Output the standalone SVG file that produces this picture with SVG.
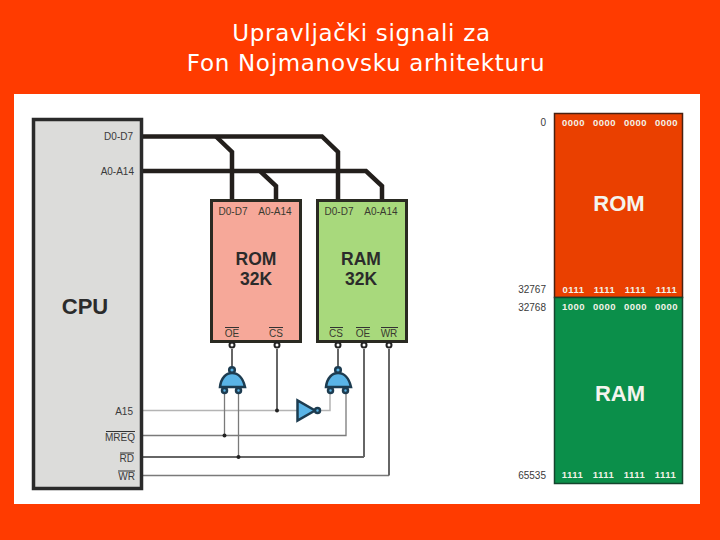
<svg xmlns="http://www.w3.org/2000/svg" width="720" height="540" viewBox="0 0 720 540">
<style>
text{font-family:"Liberation Sans",Arial,sans-serif;fill:#2b2b2b}
text.title{font-family:"DejaVu Sans",sans-serif;font-size:23px;fill:#fff;text-anchor:middle;letter-spacing:.7px}
.pin{font-size:10px;text-anchor:middle}
text.pin{fill:#3a3a30}
.end{font-size:10px;text-anchor:end}
text.end{fill:#3a3a3a}
.big{font-size:22px;font-weight:bold;text-anchor:middle}
.chip{font-size:17.500px;font-weight:bold;text-anchor:middle}
text.mem{font-size:22px;font-weight:bold;text-anchor:middle;fill:#f4f4ee}
.bits text{font-size:9.500px;font-weight:bold;fill:#f2f2e8;text-anchor:middle;letter-spacing:.45px}
.bus{fill:none;stroke:#231f1c;stroke-width:4.500;stroke-linejoin:miter}
.w{fill:none}
.light{stroke:#b4b4b4;stroke-width:1.500}
.mid{stroke:#7a7a7a;stroke-width:1.300}
.heavy{stroke:#666;stroke-width:2}
.dark{stroke:#333;stroke-width:1.500}
.gate{fill:#5ab4e6;stroke:#1d3c50;stroke-width:2.500;stroke-linejoin:miter}
.pinb{fill:#fff;stroke:#222;stroke-width:2}
.ov{stroke:#333;stroke-width:1;fill:none}
</style>
<rect width="720" height="540" fill="#ff3b00"/>
<text class="title" x="361.500" y="41">Upravljački signali za</text>
<text class="title" x="366" y="71">Fon Nojmanovsku arhitekturu</text>
<rect x="14" y="94" width="686" height="410" fill="#fff"/>

<g id="connectors">
<path class="bus" d="M141 136.500H322L338 152V200"/>
<path class="bus" d="M216 136.500L232 152V200"/>
<path class="bus" d="M141 171H366L382 186V200"/>
<path class="bus" d="M260 171L276 186V200"/>
<path class="w light" d="M141 410.500H297"/>
<path class="w light" d="M320 410.500H330V393"/>
<path class="w mid" d="M141 435.500H346V393"/>
<path class="w dark" d="M141 457H364"/>
<path class="w heavy" d="M364 457V349"/>
<path class="w mid" d="M141 475.500H389"/>
<path class="w heavy" d="M389 475.500V349"/>
<path class="w mid" d="M224.500 435.500V393"/>
<path class="w mid" d="M238.500 457V393"/>
<path class="w dark" d="M277 349V410.500"/>
<path class="w dark" d="M232 349V368"/>
<path class="w dark" d="M338 349V368"/>
<circle cx="277" cy="410.500" r="2" fill="#222"/>
<circle cx="224.500" cy="435.500" r="2" fill="#222"/>
<circle cx="238.500" cy="457" r="2" fill="#222"/>
</g>

<g id="cpu">
<rect x="33.500" y="119.500" width="108" height="369" fill="#dcdcda" stroke="#2a2a2a" stroke-width="3.500"/>
<text class="big" x="85" y="314">CPU</text>
<text class="end" x="133" y="140">D0-D7</text>
<text class="end" x="134" y="175">A0-A14</text>
<text class="end" x="133" y="415">A15</text>
<text class="end" x="135" y="441">MREQ</text><path class="ov" d="M106 431.500H135"/>
<text class="end" x="134" y="462">RD</text><path class="ov" d="M120 453H134"/>
<text class="end" x="135" y="480">WR</text><path class="ov" d="M118 471H135"/>
</g>

<g id="rom">
<rect x="211.500" y="200.500" width="89" height="141" fill="#f6a899" stroke="#2a2a22" stroke-width="3"/>
<text class="pin" x="233" y="215">D0-D7</text>
<text class="pin" x="275" y="215">A0-A14</text>
<text class="chip" x="256" y="265">ROM</text>
<text class="chip" x="256" y="285">32K</text>
<text class="pin" x="232" y="337">OE</text><path class="ov" d="M225 327.500H239"/>
<text class="pin" x="276" y="337">CS</text><path class="ov" d="M269 327.500H283"/>
<circle class="pinb" cx="232" cy="345" r="2.500"/>
<circle class="pinb" cx="277" cy="345" r="2.500"/>
</g>

<g id="ram">
<rect x="317.500" y="200.500" width="89" height="141" fill="#a8d97c" stroke="#2a2a22" stroke-width="3"/>
<text class="pin" x="339" y="215">D0-D7</text>
<text class="pin" x="381" y="215">A0-A14</text>
<text class="chip" x="361" y="265">RAM</text>
<text class="chip" x="361" y="285">32K</text>
<text class="pin" x="336" y="337">CS</text><path class="ov" d="M330 327.500H343"/>
<text class="pin" x="363" y="337">OE</text><path class="ov" d="M356 327.500H370"/>
<text class="pin" x="389" y="337">WR</text><path class="ov" d="M381 327.500H398"/>
<circle class="pinb" cx="338" cy="345" r="2.500"/>
<circle class="pinb" cx="364" cy="345" r="2.500"/>
<circle class="pinb" cx="389" cy="345" r="2.500"/>
</g>

<g id="nand-rom">
<circle class="gate" cx="232" cy="370" r="2.800"/>
<path class="gate" d="M220 387C221 378 226 373 232 373C238 373 243 378 245 387Z"/>
<circle class="gate" cx="224.500" cy="390.500" r="2.500"/>
<circle class="gate" cx="238.500" cy="390.500" r="2.500"/>
</g>
<g id="nand-ram">
<circle class="gate" cx="338" cy="370" r="2.800"/>
<path class="gate" d="M326 387C327 378 332 373 338 373C344 373 349 378 351 387Z"/>
<circle class="gate" cx="330.500" cy="390.500" r="2.500"/>
<circle class="gate" cx="345.500" cy="390.500" r="2.500"/>
</g>
<g id="inverter">
<path class="gate" d="M297.500 400.500V420.500L315 410.500Z"/>
<circle class="gate" cx="317.500" cy="410.500" r="2.500"/>
</g>

<g id="memory-map">
<rect x="554.500" y="113.500" width="128" height="184" fill="#ea4000" stroke="#4a2010" stroke-width="1.500"/>
<rect x="554.500" y="297.500" width="128" height="186" fill="#0b8f4a" stroke="#14452e" stroke-width="1.500"/>
<text class="mem" x="619" y="211">ROM</text>
<text class="mem" x="620" y="401">RAM</text>
<text class="end" x="546" y="126">0</text>
<text class="end" x="546" y="293">32767</text>
<text class="end" x="546" y="311">32768</text>
<text class="end" x="546" y="479">65535</text>
<g class="bits">
<text x="573.500" y="126">0000</text><text x="604.500" y="126">0000</text><text x="635.500" y="126">0000</text><text x="666.500" y="126">0000</text>
<text x="573.500" y="293">0111</text><text x="604.500" y="293">1111</text><text x="635.500" y="293">1111</text><text x="666.500" y="293">1111</text>
<text x="573.500" y="310">1000</text><text x="604.500" y="310">0000</text><text x="635.500" y="310">0000</text><text x="666.500" y="310">0000</text>
<text x="572.500" y="478">1111</text><text x="603.500" y="478">1111</text><text x="634.500" y="478">1111</text><text x="665.500" y="478">1111</text>
</g>
</g>
</svg>
